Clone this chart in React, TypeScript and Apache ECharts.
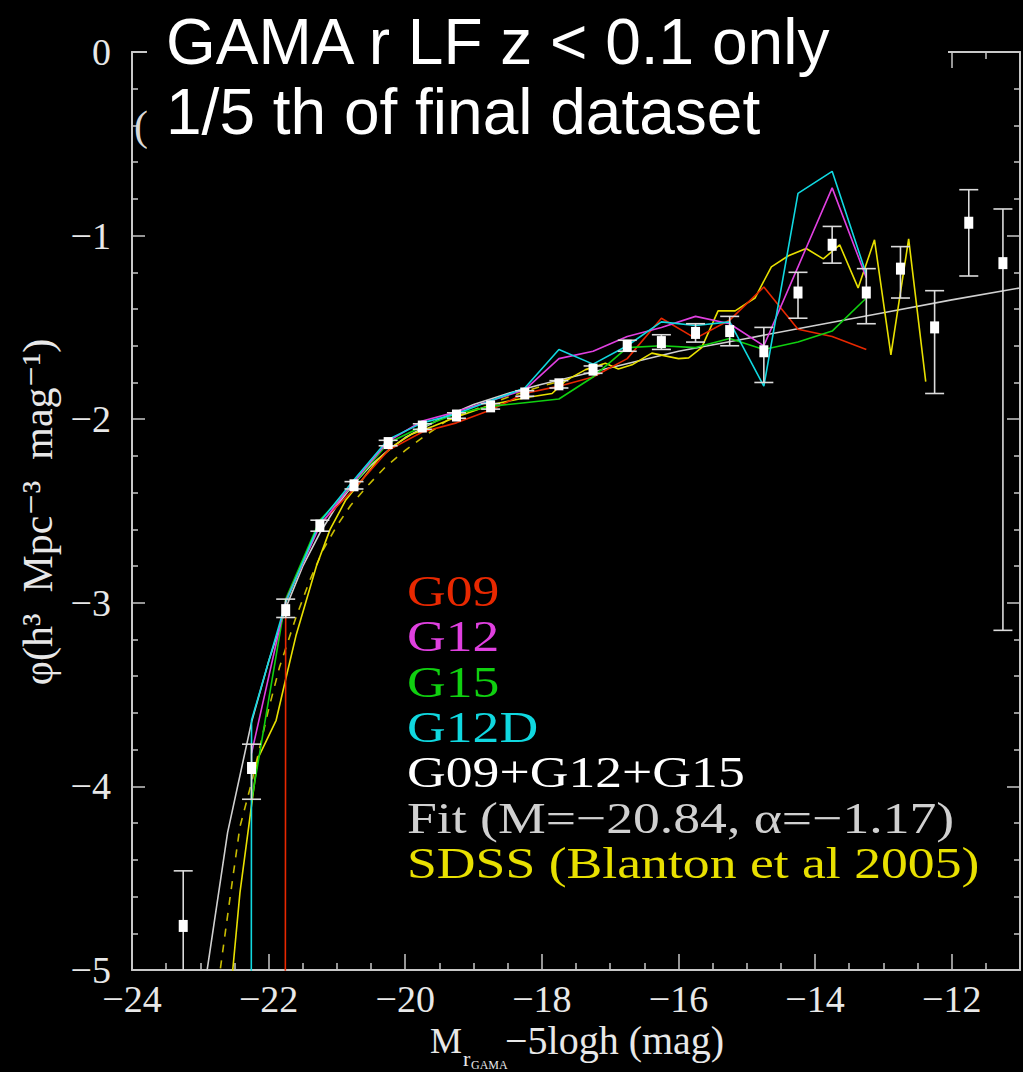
import React, { useEffect, useRef } from "react";
import * as echarts from "echarts";

// ---- Data ----
// G09+G12+G15 binned points (white squares) with error-bar ends
const dataMag = [-23.25, -22.25, -21.75, -21.25, -20.75, -20.25, -19.75, -19.25, -18.75, -18.25, -17.75, -17.25, -16.75, -16.25, -15.75, -15.25, -14.75, -14.25, -13.75, -13.25, -12.75, -12.25, -11.75, -11.25];
const dataPhi = [-4.76, -3.90, -3.04, -2.58, -2.36, -2.13, -2.04, -1.98, -1.93, -1.86, -1.81, -1.73, -1.60, -1.58, -1.53, -1.52, -1.63, -1.31, -1.05, -1.31, -1.18, -1.50, -0.93, -1.15];
const dataHi = [-4.46, -3.77, -2.98, -2.55, -2.34, -2.115, -2.025, -1.965, -1.915, -1.845, -1.79, -1.71, -1.57, -1.54, -1.48, -1.44, -1.50, -1.20, -0.95, -1.18, -1.06, -1.30, -0.75, -0.855];
const dataLo = [-5.6, -4.07, -3.08, -2.61, -2.38, -2.145, -2.055, -1.995, -1.945, -1.875, -1.83, -1.75, -1.63, -1.62, -1.58, -1.60, -1.80, -1.45, -1.15, -1.48, -1.34, -1.86, -1.22, -3.15];

// Region bins
const binMag = [-22.25, -21.75, -21.25, -20.75, -20.25, -19.75, -19.25, -18.75, -18.25, -17.75, -17.25, -16.75, -16.25, -15.75, -15.25, -14.75, -14.25, -13.75, -13.25];
const g09Phi = [-200, -3.00, -2.57, -2.38, -2.17, -2.07, -2.02, -1.95, -1.86, -1.82, -1.77, -1.67, -1.45, -1.56, -1.46, -1.28, -1.51, -1.55, -1.62];
const g12Phi = [-3.82, -2.99, -2.58, -2.34, -2.12, -2.01, -1.96, -1.90, -1.84, -1.67, -1.63, -1.55, -1.50, -1.44, -1.48, -1.60, -1.17, -0.74, -1.23];
const g15Phi = [-4.08, -2.98, -2.55, -2.35, -2.13, -2.04, -1.97, -1.93, -1.91, -1.89, -1.77, -1.61, -1.60, -1.61, -1.56, -1.62, -1.58, -1.52, -1.34];
const g12dMag = [-22.75, -22.25, -21.75, -21.25, -20.75, -20.25, -19.75, -19.25, -18.75, -18.25, -17.75, -17.25, -16.75, -16.25, -15.75, -15.25, -14.75, -14.25, -13.75, -13.25];
const g12dPhi = [-200, -3.64, -3.00, -2.56, -2.33, -2.11, -2.02, -1.97, -1.90, -1.83, -1.62, -1.70, -1.60, -1.47, -1.49, -1.47, -1.82, -0.77, -0.65, -1.21];

// Schechter fit (M*=-20.84, alpha=-1.17)
const fitMag = [-22.92, -22.6, -22.25, -22.0, -21.75, -21.5, -21.25, -21.0, -20.75, -20.5, -20.25, -20.0, -19.5, -19.0, -18.5, -18.0, -17.0, -16.0, -15.0, -14.0, -13.0, -12.0, -11.0];
const fitPhi = [-5.05, -4.25, -3.65, -3.32, -3.03, -2.80, -2.62, -2.47, -2.35, -2.25, -2.17, -2.10, -2.00, -1.92, -1.86, -1.81, -1.72, -1.63, -1.56, -1.49, -1.42, -1.35, -1.285];

// SDSS (Blanton et al 2005): binned LF (solid) and its fit (dashed)
const sdssMag = [-22.6, -22.42, -22.16, -21.89, -21.74, -21.6, -21.3, -21.1, -20.87, -20.63, -20.4, -20.15, -19.9, -19.6, -19.26, -18.73, -18.2, -17.85, -17.65, -17.36, -17.07, -16.88, -16.68, -16.39, -16.0, -15.85, -15.66, -15.42, -15.17, -14.88, -14.64, -14.39, -14.13, -13.88, -13.64, -13.37, -13.13, -12.89, -12.63, -12.38];
const sdssPhi = [-5.3, -4.58, -3.85, -3.64, -3.40, -3.18, -2.80, -2.60, -2.44, -2.33, -2.22, -2.14, -2.08, -2.04, -1.99, -1.92, -1.88, -1.86, -1.79, -1.73, -1.695, -1.727, -1.704, -1.64, -1.67, -1.666, -1.61, -1.41, -1.41, -1.34, -1.17, -1.11, -1.07, -1.127, -1.05, -1.285, -1.023, -1.65, -1.018, -1.795];
const sdssFitMag = [-22.8, -22.57, -22.42, -22.25, -22.0, -21.84, -21.6, -21.4, -21.2, -21.0, -20.8, -20.57, -20.29, -20.0, -19.71, -19.36, -19.0, -18.5, -18.0, -17.5];
const sdssFitPhi = [-5.25, -4.62, -4.22, -3.98, -3.58, -3.35, -3.08, -2.88, -2.71, -2.58, -2.47, -2.37, -2.26, -2.17, -2.09, -2.00, -1.95, -1.88, -1.82, -1.77];

const legendLabels = ["G09", "G12", "G15", "G12D", "G09+G12+G15", "Fit (M=\u221220.84, \u03b1=\u22121.17)", "SDSS (Blanton et al 2005)"];
const titleLines = ["GAMA r LF z < 0.1 only", "1/5 th of final dataset"];

const COL = {
  g09: "#e82800",
  g12: "#e040e0",
  g15: "#10d010",
  g12d: "#10d8e0",
  white: "#ffffff",
  fit: "#d0d0d0",
  sdss: "#e8e000",
  sdssFit: "#c8bc00",
  axis: "#c8c8c8",
  text: "#e8e8e8",
};

const SERIF = '"Liberation Serif", "DejaVu Serif", serif';
const SANS = '"Liberation Sans", Arial, sans-serif';

const pairs = (xs: number[], ys: number[]) => xs.map((x, i) => [x, ys[i]]);
const minus = (v: number) => (v < 0 ? "\u2212" + Math.abs(v) : String(v));

export default function App() {
  const ref = useRef<HTMLDivElement>(null);
  useEffect(() => {
    if (!ref.current) return;
    const chart = echarts.init(ref.current, undefined, { renderer: "svg" });

    const lineSeries = (name: string, xs: number[], ys: number[], color: string, dashed = false, z = 2) => ({
      name,
      type: "line",
      data: pairs(xs, ys),
      showSymbol: false,
      symbol: "none",
      clip: true,
      z,
      lineStyle: { color, width: 1.6, type: dashed ? [8, 8] : "solid" },
      emphasis: { disabled: true },
    });

    const axisCommonX = {
      type: "value",
      min: -24,
      max: -11,
      interval: 2,
      splitLine: { show: false },
      axisLine: { onZero: false, lineStyle: { color: COL.axis, width: 2 } },
      axisTick: { inside: true, length: 16, lineStyle: { color: COL.axis, width: 1.5 } },
      minorTick: { show: true, splitNumber: 4, length: 7, lineStyle: { color: COL.axis, width: 1.5 } },
    };
    const axisCommonY = {
      type: "value",
      min: -5,
      max: 0,
      interval: 1,
      splitLine: { show: false },
      axisLine: { onZero: false, lineStyle: { color: COL.axis, width: 2 } },
      axisTick: { inside: true, length: 13, lineStyle: { color: COL.axis, width: 1.5 } },
      minorTick: { show: true, splitNumber: 5, length: 6, lineStyle: { color: COL.axis, width: 1.5 } },
    };

    const legendColors = [COL.g09, COL.g12, COL.g15, COL.g12d, COL.white, COL.fit, COL.sdss];
    const LH = 45.4;
    const legendTexts = legendLabels.map((t, i) => ({
      type: "text",
      x: 407,
      y: 591 + i * LH,
      scaleX: 1.22,
      z: 110,
      style: {
        text: t,
        fill: legendColors[i],
        font: `44px ${SERIF}`,
        align: "left",
        verticalAlign: "middle",
      },
    }));

    const axTitle = (text: string, x: number, y: number, size: number) => ({
      type: "text",
      x,
      y,
      z: 110,
      style: { text, fill: COL.text, font: `${size}px ${SERIF}`, align: "left", verticalAlign: "middle" },
    });

    const option = {
      animation: false,
      backgroundColor: "#000000",
      grid: { left: 132, right: 1, top: 52, bottom: 102, containLabel: false },
      xAxis: [
        {
          ...axisCommonX,
          position: "bottom",
          axisLabel: {
            color: COL.text,
            fontFamily: SERIF,
            fontSize: 38,
            margin: 10,
            formatter: (v: number) => (v > -11.5 ? "" : minus(v)),
          },
        },
        {
          ...axisCommonX,
          position: "top",
          axisLabel: { show: false },
        },
      ],
      yAxis: [
        {
          ...axisCommonY,
          position: "left",
          axisLabel: {
            color: COL.text,
            fontFamily: SERIF,
            fontSize: 38,
            margin: 21,
            formatter: (v: number) => minus(v),
          },
        },
        {
          ...axisCommonY,
          position: "right",
          axisLabel: { show: false },
        },
      ],
      series: [
        lineSeries("Fit", fitMag, fitPhi, COL.fit),
        lineSeries("SDSS fit", sdssFitMag, sdssFitPhi, COL.sdssFit, true),
        lineSeries("SDSS", sdssMag, sdssPhi, COL.sdss),
        lineSeries("G09", binMag, g09Phi, COL.g09),
        lineSeries("G15", binMag, g15Phi, COL.g15),
        lineSeries("G12", binMag, g12Phi, COL.g12),
        lineSeries("G12D", g12dMag, g12dPhi, COL.g12d),
        {
          name: "G09+G12+G15",
          type: "custom",
          z: 5,
          data: dataMag.map((m, i) => [m, dataPhi[i], dataHi[i], dataLo[i]]),
          encode: { x: 0, y: 1 },
          renderItem: (params: any, api: any) => {
            const xv = api.value(0);
            const c = api.coord([xv, api.value(1)]);
            const ch = api.coord([xv, api.value(2)]);
            const cl = api.coord([xv, api.value(3)]);
            const cs = params.coordSys;
            const top = cs.y;
            const bottom = cs.y + cs.height;
            const yHi = Math.max(ch[1], top);
            const yLo = Math.min(cl[1], bottom);
            const st = { stroke: "#dcdcdc", lineWidth: 1.6 };
            const children: any[] = [
              { type: "line", shape: { x1: c[0], y1: yHi, x2: c[0], y2: yLo }, style: st },
            ];
            if (ch[1] >= top) children.push({ type: "line", shape: { x1: c[0] - 9.5, y1: ch[1], x2: c[0] + 9.5, y2: ch[1] }, style: st });
            if (cl[1] <= bottom) children.push({ type: "line", shape: { x1: c[0] - 9.5, y1: cl[1], x2: c[0] + 9.5, y2: cl[1] }, style: st });
            children.push({ type: "rect", shape: { x: c[0] - 4.5, y: c[1] - 6, width: 9, height: 12 }, style: { fill: "#ffffff" } });
            return { type: "group", children };
          },
        },
      ],
      graphic: [
        {
          type: "text",
          x: 134,
          y: 126,
          z: 90,
          style: { text: "(", fill: "#d8d8d8", font: `42px ${SERIF}`, align: "left", verticalAlign: "middle" },
        },
        {
          type: "rect",
          z: 100,
          shape: { x: 147, y: 0, width: 801, height: 150 },
          style: { fill: "#000000" },
        },
        {
          type: "text",
          x: 166,
          y: 42,
          z: 110,
          style: { text: titleLines[0], fill: "#ffffff", font: `64px ${SANS}`, align: "left", verticalAlign: "middle" },
        },
        {
          type: "text",
          x: 166,
          y: 112,
          z: 110,
          style: { text: titleLines[1], fill: "#ffffff", font: `64px ${SANS}`, align: "left", verticalAlign: "middle" },
        },
        ...legendTexts,
        // y-axis title
        {
          type: "text",
          x: 38,
          y: 512,
          rotation: Math.PI / 2,
          z: 110,
          style: {
            text: "\u03c6(h\u00b3  Mpc\u207b\u00b3  mag\u207b\u00b9)",
            fill: COL.text,
            font: `42px ${SERIF}`,
            align: "center",
            verticalAlign: "middle",
          },
        },
        // x-axis title with subscripts, pieces placed side by side
        axTitle("M", 430, 1041, 36),
        axTitle("r", 463, 1058, 22),
        axTitle("GAMA", 471, 1065, 12),
        axTitle("\u22125logh (mag)", 505, 1040, 40),
      ],
    };

    chart.setOption(option as any);
    return () => chart.dispose();
  }, []);

  return (
    <div
      ref={ref}
      style={{ position: "fixed", left: 0, top: 0, width: 1023, height: 1072, background: "#000" }}
    />
  );
}
